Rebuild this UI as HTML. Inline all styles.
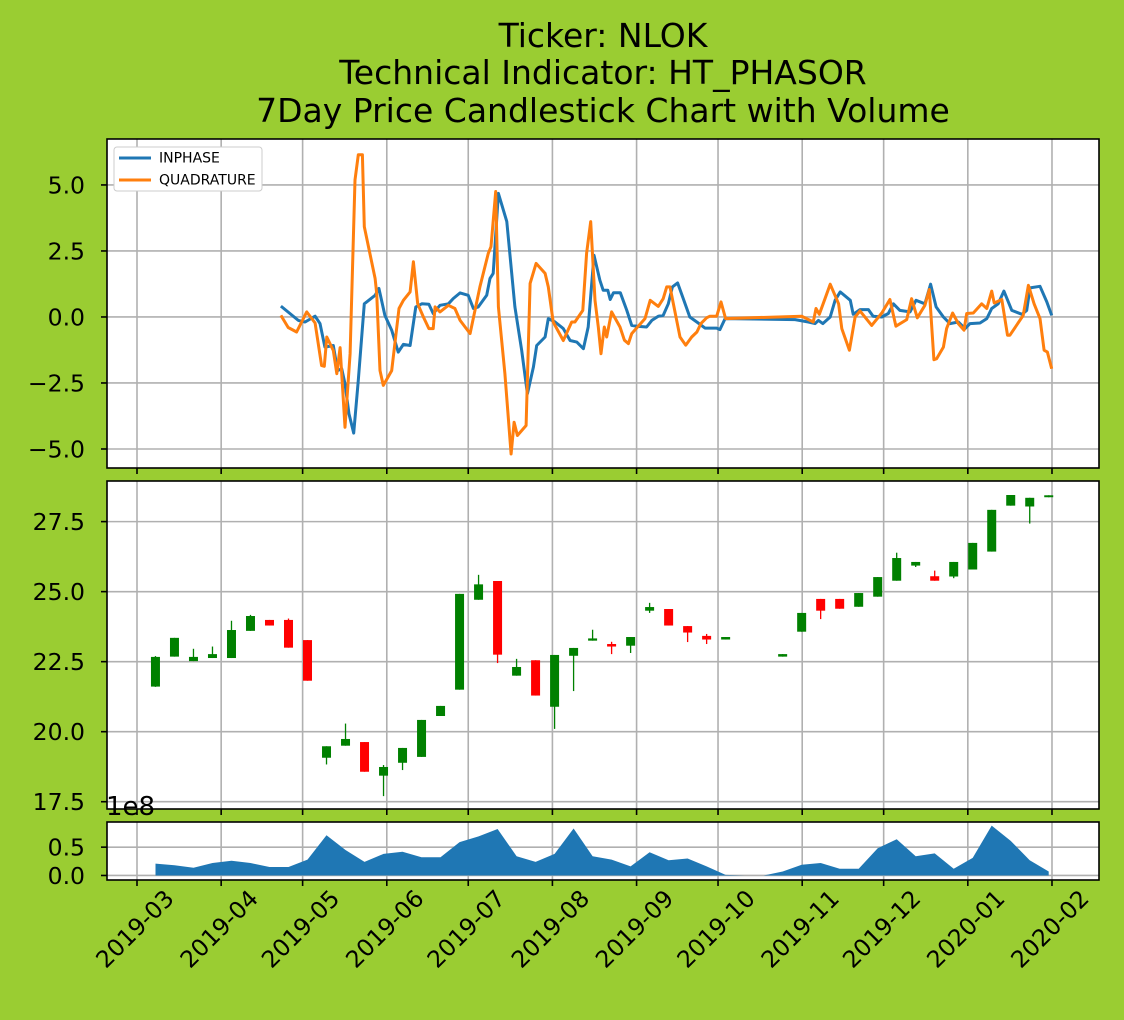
<!DOCTYPE html>
<html><head><meta charset="utf-8">
<style>
html,body{margin:0;padding:0;background:#9acd32;}
svg{display:block;font-family:"DejaVu Sans","Liberation Sans",sans-serif;}
</style></head>
<body>
<svg id="chart" width="1124" height="1020" viewBox="0 0 1124 1020" xmlns="http://www.w3.org/2000/svg">
<rect x="0" y="0" width="1124" height="1020" fill="#9acd32"/>
<g font-size="33" text-anchor="middle" fill="#000">
<text x="603" y="47">Ticker: NLOK</text>
<text x="603" y="84">Technical Indicator: HT_PHASOR</text>
<text x="603" y="122">7Day Price Candlestick Chart with Volume</text>
</g>
</svg>
<script>
// ---- data ----
const monthLabels = ["2019-03","2019-04","2019-05","2019-06","2019-07","2019-08","2019-09","2019-10","2019-11","2019-12","2020-01","2020-02"];
const monthDays = [0,31,61,92,122,153,184,214,245,275,306,337];

const inphaseDays = [53.0,59.4,61.9,65.6,67.4,69.2,72.3,73.9,75.4,76.6,78.1,79.8,81.5,83.7,87.7,89.1,91.3,93.8,96.2,98.1,100.6,102.7,104.9,107.5,109.1,111.6,114.7,116.5,119.0,122.0,123.9,125.7,128.8,130.0,131.2,133.1,136.2,139.2,141.7,143.8,146.0,147.2,150.3,151.5,154.0,157.0,159.5,162.0,164.4,166.2,168.3,170.5,171.7,173.4,174.3,175.5,178.0,180.4,182.2,184.1,187.7,189.6,192.0,193.8,195.7,197.2,199.1,201.2,203.6,206.7,209.2,213.5,214.7,216.6,242.4,247.3,249.7,251.0,252.6,255.3,257.1,259.0,262.7,263.8,266.3,269.4,271.1,274.3,276.7,278.6,281.0,284.7,286.9,290.2,292.3,294.3,297.0,299.4,302.5,305.0,306.8,310.5,313.0,314.8,317.2,319.3,322.2,325.9,327.7,328.9,332.6,335.1,336.9];
const inphaseVals = [0.41,-0.13,-0.19,0.03,-0.25,-1.14,-1.08,-2.03,-1.96,-2.53,-3.67,-4.4,-2.4,0.5,0.82,1.08,0.06,-0.5,-1.33,-1.04,-1.08,0.38,0.5,0.48,0.13,0.44,0.5,0.7,0.91,0.82,0.32,0.38,0.82,1.46,1.65,4.68,3.61,0.38,-1.27,-2.91,-1.9,-1.08,-0.76,-0.06,-0.19,-0.44,-0.89,-0.95,-1.2,-0.38,2.34,1.39,1.01,1.01,0.66,0.92,0.92,0.25,-0.32,-0.35,-0.38,-0.13,0.03,0.06,0.5,1.14,1.29,0.69,0,-0.23,-0.42,-0.42,-0.48,-0.06,-0.1,-0.19,-0.25,-0.13,-0.25,0,0.63,0.95,0.63,0.1,0.28,0.28,0.03,0,0.13,0.5,0.25,0.19,0.63,0.5,1.24,0.38,0,-0.25,-0.19,-0.44,-0.25,-0.23,-0.06,0.32,0.5,0.98,0.25,0.1,0.25,1.1,1.16,0.57,0.06];

const quadDays = [53.0,55.7,58.8,62.5,65.6,68.0,69.0,69.9,72.3,73.6,74.8,76.6,78.5,80.3,81.5,83.0,83.7,87.7,88.3,89.5,90.7,93.8,96.5,98.1,100.6,101.8,103.4,105.5,107.5,109.1,109.8,111.6,114.7,117.1,119.0,122.7,126.3,129.4,130.4,132.1,133.1,135.5,137.8,138.9,140.1,143.3,144.8,147.0,150.3,151.5,153.3,157.0,160.1,161.3,164.2,165.6,167.1,168.7,169.9,170.9,172.1,173.0,174.8,177.9,179.5,181.0,182.2,187.1,189.0,192.0,193.8,195.1,196.3,200.0,202.1,204.3,206.2,207.7,209.8,211.0,213.5,215.1,216.8,244.8,249.1,250.1,251.3,253.4,255.3,258.4,259.6,262.4,264.5,266.3,270.6,274.3,277.3,279.5,283.5,285.3,287.4,290.2,291.8,293.5,294.5,297.0,298.2,300.4,302.5,304.6,305.6,308.0,311.1,313.0,314.8,315.7,318.5,320.6,321.5,326.4,328.3,330.4,332.6,334.1,335.3,336.9];
const quadVals = [0.06,-0.4,-0.57,0.19,-0.23,-1.84,-1.87,-0.76,-1.27,-2.15,-1.16,-4.18,-1.39,5.19,6.14,6.14,3.42,1.46,0.89,-2.03,-2.59,-2.03,0.32,0.63,0.95,2.09,0.5,0,-0.44,-0.44,0.38,0.19,0.44,0.32,-0.13,-0.63,1.14,2.41,2.66,4.75,0.38,-2.15,-5.19,-3.99,-4.49,-4.11,1.27,2.03,1.65,1.14,-0.19,-0.89,-0.19,-0.19,0.25,2.41,3.61,0.63,-0.38,-1.39,-0.38,-0.76,0.19,-0.38,-0.88,-1.01,-0.63,-0.06,0.63,0.4,0.69,1.14,1.14,-0.76,-1.07,-0.76,-0.57,-0.25,-0.03,0.03,0.03,0.57,-0.06,0.03,-0.19,0.32,0.1,0.69,1.24,0.5,-0.44,-1.26,0,0.23,-0.32,0.15,0.66,-0.35,-0.1,0.69,-0.03,0.44,1.04,-1.62,-1.58,-1.14,-0.44,0.15,-0.25,-0.5,0.13,0.15,0.5,0.32,0.98,0.53,0.66,-0.69,-0.69,0.06,1.2,0.5,-0.06,-1.26,-1.33,-1.96];

const candleOpen  = [21.61,22.68,22.52,22.63,22.63,23.6,23.99,23.99,23.27,19.07,19.5,19.63,18.43,18.89,19.1,20.56,21.5,24.71,25.38,22.0,22.55,20.89,22.71,23.25,23.13,23.07,24.32,24.38,23.77,23.42,23.29,null,null,22.68,23.57,24.74,24.74,24.46,24.82,25.39,25.93,25.55,25.54,25.79,26.43,28.07,28.04,28.37];
const candleClose = [22.67,23.35,22.67,22.77,23.63,24.13,23.79,23.0,21.82,19.48,19.74,18.57,18.74,19.42,20.42,20.92,24.92,25.26,22.75,22.31,21.29,22.74,22.99,23.33,23.04,23.38,24.45,23.79,23.54,23.29,23.38,null,null,22.77,24.24,24.32,24.39,24.95,25.52,26.2,26.06,25.39,26.06,26.74,27.92,28.45,28.35,28.44];
const candleHigh  = [22.7,23.35,22.96,23.04,23.96,24.17,23.99,24.04,23.27,19.48,20.29,19.63,18.81,19.42,20.42,20.92,24.92,25.6,25.38,22.6,22.55,22.74,22.99,23.64,23.21,23.38,24.6,24.38,23.77,23.49,23.38,null,null,22.77,24.24,24.74,24.74,24.95,25.52,26.39,26.06,25.75,26.06,26.74,27.92,28.45,28.35,28.44];
const candleLow   = [21.6,22.68,22.52,22.63,22.63,23.6,23.79,23.0,21.82,18.83,19.5,18.57,17.7,18.63,19.1,20.56,21.5,24.71,22.45,22.0,21.29,20.1,21.45,23.25,22.77,22.81,24.24,23.79,23.2,23.13,23.29,null,null,22.68,23.57,24.02,24.39,24.46,24.82,25.39,25.88,25.39,25.48,25.79,26.43,28.07,27.43,28.37];
const volumeVals  = [0.21,0.18,0.135,0.22,0.26,0.22,0.15,0.15,0.28,0.71,0.45,0.24,0.38,0.42,0.32,0.32,0.59,0.69,0.82,0.34,0.24,0.38,0.83,0.34,0.28,0.16,0.41,0.27,0.30,0.16,0.01,0,0,0.07,0.19,0.22,0.12,0.12,0.48,0.64,0.34,0.39,0.12,0.31,0.88,0.61,0.27,0.07];
const weekDays = candleOpen.map((_, i) => 6.8 + 7 * i);

const phaseTicks = [-5,-2.5,0,2.5,5];
const phaseTickLabels = ["\u22125.0","\u22122.5","0.0","2.5","5.0"];
const priceTicks = [17.5,20,22.5,25,27.5];
const priceTickLabels = ["17.5","20.0","22.5","25.0","27.5"];
const volTicks = [0,0.5];
const volTickLabels = ["0.0","0.5"];

// ---- layout ----
const NS = "http://www.w3.org/2000/svg";
const svg = document.getElementById("chart");
const X0 = 107, X1 = 1099;
const TICKFONT = 23.5;
const xs = d => 137 + d * 2.7151;
const panels = {
  phase: {y0:139, y1:468, min:-5.72, max:6.74},
  price: {y0:481, y1:809, min:17.24, max:28.95},
  vol:   {y0:822, y1:880, min:-0.08, max:0.944}
};
function ys(p, v){ const P = panels[p]; return P.y1 - (v - P.min) / (P.max - P.min) * (P.y1 - P.y0); }
function mk(tag, attrs, parent){ const e = document.createElementNS(NS, tag); for (const k in attrs) e.setAttribute(k, attrs[k]); (parent||svg).appendChild(e); return e; }

function drawPanel(name, ticks, labels){
  const P = panels[name];
  const g = mk("g", {});
  
  
  const bg = mk("rect", {x:X0, y:P.y0, width:X1-X0, height:P.y1-P.y0, fill:"#fff"}, g);
  
  
  monthDays.forEach((d) => {
    const gl = mk("line", {x1:xs(d), x2:xs(d), y1:P.y0, y2:P.y1, stroke:"#b0b0b0", "stroke-width":1.6}, g);
    
    
    const tk = mk("line", {x1:xs(d), x2:xs(d), y1:P.y1, y2:P.y1+6, stroke:"#000", "stroke-width":1.6}, g);
    
    
  });
  ticks.forEach((t, i) => {
    const y = ys(name, t);
    const gl = mk("line", {x1:X0, x2:X1, y1:y, y2:y, stroke:"#b0b0b0", "stroke-width":1.6}, g);
    
    
    const tk = mk("line", {x1:X0-6, x2:X0, y1:y, y2:y, stroke:"#000", "stroke-width":1.6}, g);
    
    
    const tx = mk("text", {x:X0-22, y:y+8.5, "font-size":TICKFONT, "text-anchor":"end"}, g);
    
    
    tx.textContent = labels[i];
  });
  return g;
}
function frame(name){
  const P = panels[name];
  const f = mk("rect", {x:X0, y:P.y0, width:X1-X0, height:P.y1-P.y0, fill:"none", stroke:"#000", "stroke-width":1.6});
  
  
}

// phase panel
drawPanel("phase", phaseTicks, phaseTickLabels);
function linePath(days, vals){ return days.map((d,i)=>(i?"L":"M")+xs(d).toFixed(1)+","+ys("phase", vals[i]).toFixed(1)).join(""); }
const inL = mk("path", {d:linePath(inphaseDays, inphaseVals), fill:"none", stroke:"#1f77b4", "stroke-width":3, "stroke-linejoin":"round"});


const qL = mk("path", {d:linePath(quadDays, quadVals), fill:"none", stroke:"#ff7f0e", "stroke-width":3, "stroke-linejoin":"round"});


frame("phase");

// legend
const lg = mk("g", {});


const lbox = mk("rect", {x:114, y:147, width:148, height:44, rx:3, fill:"#fff", stroke:"#ccc", "stroke-width":1}, lg);


[["INPHASE","#1f77b4",158],["QUADRATURE","#ff7f0e",180]].forEach(([t,c,y])=>{
  const l = mk("line", {x1:119, x2:151, y1:y, y2:y, stroke:c, "stroke-width":3}, lg);
  
  
  const tx = mk("text", {x:159, y:y+4.5, "font-size":14}, lg);
  
  
  tx.textContent = t;
});

// price panel
drawPanel("price", priceTicks, priceTickLabels);
weekDays.forEach((d, i) => {
  if (candleOpen[i] == null) return;
  const up = candleClose[i] >= candleOpen[i];
  const col = up ? "#008000" : "#ff0000";
  const x = xs(d);
  const w = mk("line", {x1:x, x2:x, y1:ys("price", candleHigh[i]), y2:ys("price", candleLow[i]), stroke:col, "stroke-width":1.3});
  
  
  const top = ys("price", Math.max(candleOpen[i], candleClose[i]));
  const bot = ys("price", Math.min(candleOpen[i], candleClose[i]));
  const b = mk("rect", {x:x-4.5, y:top, width:9, height:Math.max(bot-top, 1.5), fill:col});
  
  
});
frame("price");

// volume panel
drawPanel("vol", volTicks, volTickLabels);
let vd = "M" + xs(weekDays[0]).toFixed(1) + "," + ys("vol", 0).toFixed(1);
weekDays.forEach((d, i) => { vd += "L" + xs(d).toFixed(1) + "," + ys("vol", volumeVals[i]).toFixed(1); });
vd += "L" + xs(weekDays[weekDays.length-1]).toFixed(1) + "," + ys("vol", 0).toFixed(1) + "Z";
const va = mk("path", {d:vd, fill:"#1f77b4"});


frame("vol");
const sci = mk("text", {x:106, y:815, "font-size":26});


sci.textContent = "1e8";

// x tick labels (center-aligned, rotated 45°)
monthDays.forEach((d, i) => {
  const x = xs(d) - 2, y = 929;
  const t = mk("text", {x:x, y:y, "font-size":TICKFONT, "text-anchor":"middle", "dominant-baseline":"central", transform:"rotate(-45 "+x+" "+y+")"});
  
  
  t.textContent = monthLabels[i];
});
</script>
</body></html>
